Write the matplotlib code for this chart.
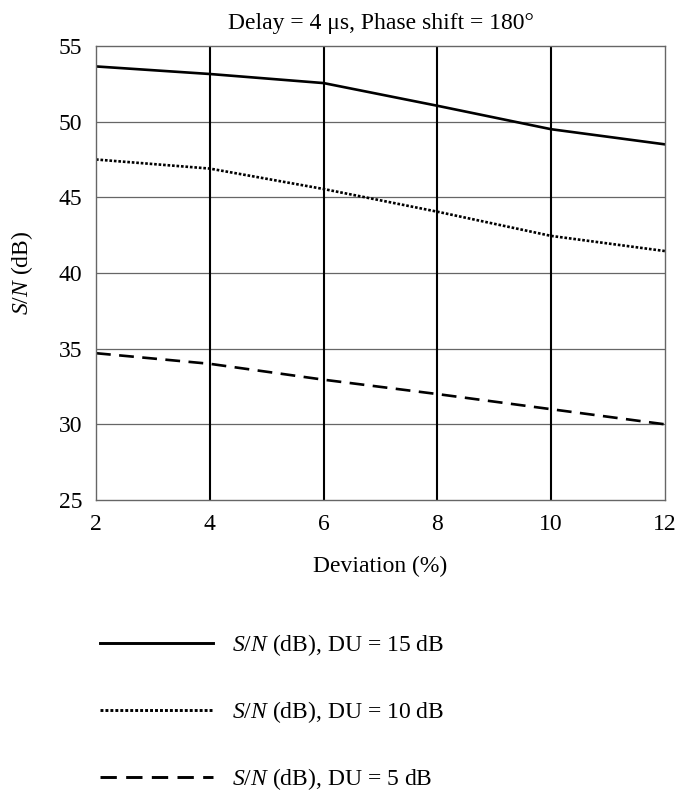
import matplotlib
matplotlib.use("Agg")
import matplotlib.pyplot as plt

deviation = [2, 4, 6, 8, 10, 12]
sn_du15 = [53.65, 53.15, 52.55, 51.05, 49.5, 48.5]
sn_du10 = [47.5, 46.9, 45.55, 44.05, 42.45, 41.45]
sn_du5 = [34.7, 34.0, 32.95, 32.0, 31.0, 30.0]
labels = [r"$S$/$N$ (dB), DU = 15 dB", r"$S$/$N$ (dB), DU = 10 dB", r"$S$/$N$ (dB), DU = 5 dB"]

plt.rcParams['font.family'] = ['Liberation Serif', 'DejaVu Serif']
plt.rcParams['mathtext.fontset'] = 'custom'
plt.rcParams['mathtext.rm'] = 'Liberation Serif'
plt.rcParams['mathtext.it'] = 'Liberation Serif:italic'

FS = 17

fig = plt.figure(figsize=(6.78, 7.97), dpi=100)
ax = fig.add_axes([96/678, 1-500/797, (665-96)/678, (500-46)/797])

l1, = ax.plot(deviation, sn_du15, color='black', lw=1.9, linestyle='-')
l2, = ax.plot(deviation, sn_du10, color='black', lw=1.9, linestyle=(0, (1, 0.7)))
l3, = ax.plot(deviation, sn_du5, color='black', lw=1.9, linestyle=(0, (5.6, 3.2)))

ax.set_xlim(2, 12)
ax.set_ylim(25, 55)
ax.set_xticks([2, 4, 6, 8, 10, 12])
ax.set_yticks([25, 30, 35, 40, 45, 50, 55])
for y in [30, 35, 40, 45, 50]:
    ax.axhline(y, color='#666666', lw=0.9, zorder=0)
for x in [4, 6, 8, 10]:
    ax.axvline(x, color='black', lw=1.5, zorder=0)
for s in ax.spines.values():
    s.set_color('#666666')
    s.set_linewidth(1.0)
ax.tick_params(axis='x', length=0, labelsize=FS, pad=10)
ax.tick_params(axis='y', length=0, labelsize=FS, pad=10)
ax.set_xlabel("Deviation (%)", fontsize=FS, labelpad=15)
ax.set_ylabel(r"$S$/$N$ (dB)", fontsize=FS, labelpad=17)
ax.set_title("Delay = 4 \u03bcs, Phase shift = 180\u00b0", fontsize=FS, pad=12)

leg = fig.legend([l1, l2, l3], labels, loc='upper left', bbox_to_anchor=(100/678, 1-632/797),
                 frameon=False, fontsize=FS, handlelength=4.8, handletextpad=0.8,
                 labelspacing=1.74, borderpad=0, borderaxespad=0)
for ln in leg.get_lines():
    ln.set_linewidth(2.1)

fig.savefig("out.png", dpi=100)
